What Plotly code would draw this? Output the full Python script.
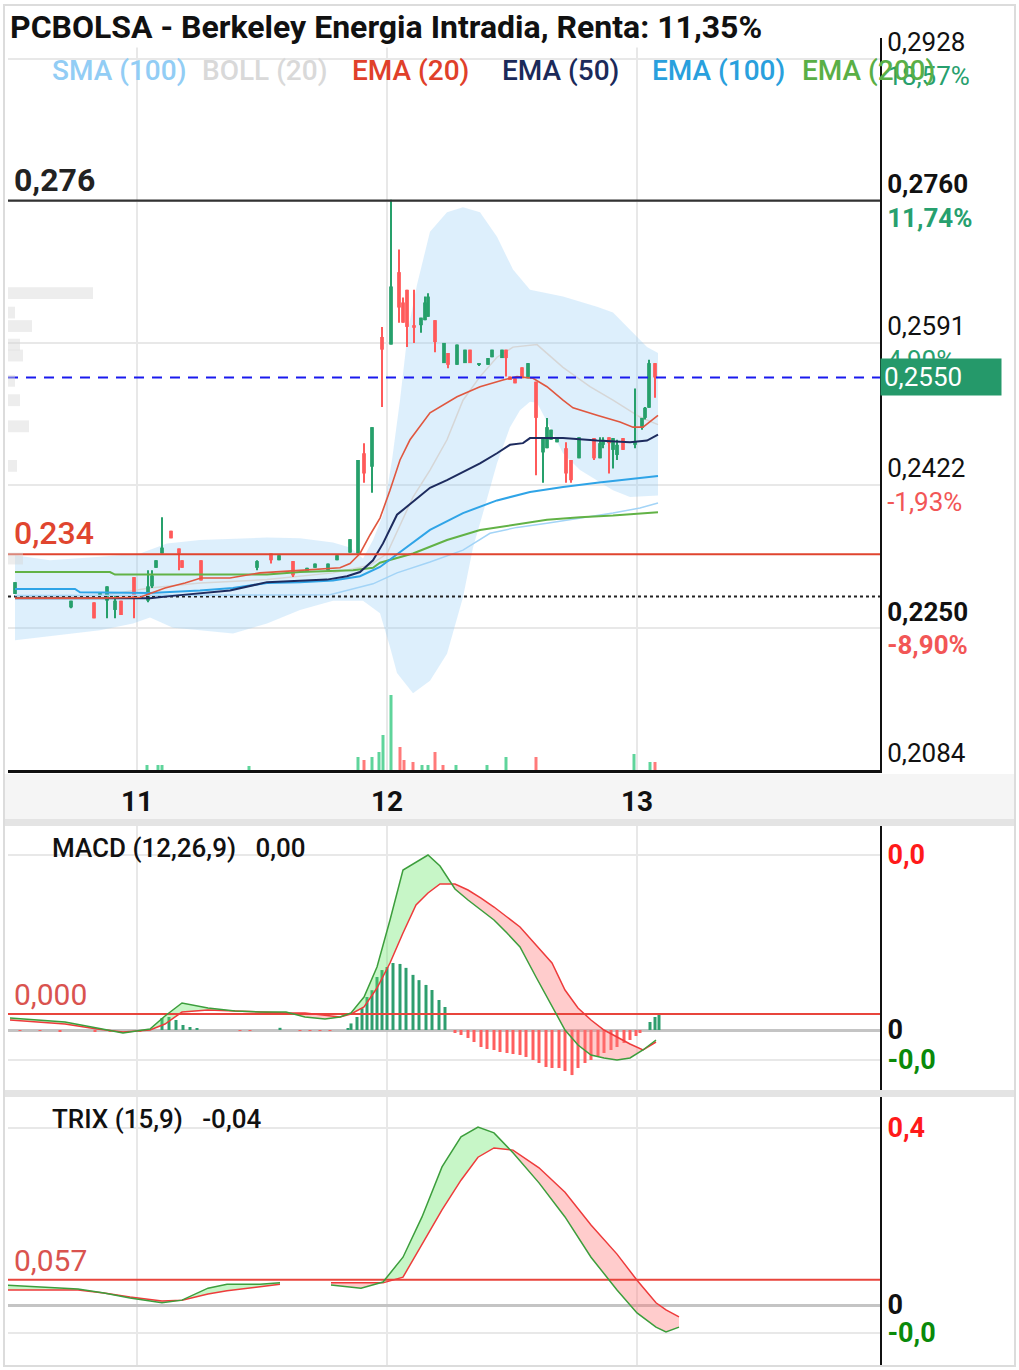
import plotly.graph_objects as go

# ====================== DATA ======================
# Candles (x = day of month, fractional intraday position)
candle_day = [10.512, 10.736, 10.828, 10.852, 10.880, 10.912, 10.936, 10.988, 11.044, 11.060,
              11.076, 11.100, 11.136, 11.168, 11.180, 11.256, 11.480, 11.536, 11.568, 11.624,
              11.680, 11.712, 11.764, 11.800, 11.852, 11.884, 11.908, 11.940, 11.980, 12.016,
              12.048, 12.064, 12.080, 12.108, 12.136, 12.152, 12.164, 12.192, 12.228, 12.244,
              12.280, 12.312, 12.332, 12.368, 12.404, 12.420, 12.460, 12.476, 12.492, 12.512,
              12.540, 12.564, 12.596, 12.624, 12.640, 12.656, 12.680, 12.716, 12.736, 12.768,
              12.828, 12.852, 12.864, 12.888, 12.904, 12.920, 12.944, 12.992, 13.020, 13.032,
              13.048, 13.072]
candle_open = [0.2293, 0.2277, 0.2283, 0.2291, 0.2285, 0.2274, 0.2285, 0.2313, 0.2285, 0.2302,
               0.2324, 0.2341, 0.2368, 0.2347, 0.2333, 0.2333, 0.2324, 0.2341, 0.2333, 0.2332,
               0.2319, 0.2324, 0.2321, 0.2333, 0.2342, 0.2341, 0.2460, 0.2444, 0.2598, 0.2589,
               0.2675, 0.2639, 0.2654, 0.2612, 0.2612, 0.2618, 0.2622, 0.2618, 0.2567, 0.2579,
               0.2565, 0.2567, 0.2583, 0.2565, 0.2565, 0.2574, 0.2573, 0.2583, 0.2551, 0.2549,
               0.2562, 0.2549, 0.2545, 0.2461, 0.2466, 0.2476, 0.2473, 0.2466, 0.2452, 0.2454,
               0.2478, 0.2454, 0.2470, 0.2479, 0.2464, 0.2458, 0.2478, 0.2470, 0.2490, 0.2502,
               0.2514, 0.2567]
candle_high = [0.2307, 0.2285, 0.2283, 0.2294, 0.2302, 0.2291, 0.2285, 0.2313, 0.2321, 0.2321,
               0.2333, 0.2384, 0.2368, 0.2347, 0.2333, 0.2333, 0.2333, 0.2341, 0.2339, 0.2332,
               0.2324, 0.2329, 0.2329, 0.2339, 0.2358, 0.2452, 0.2472, 0.2491, 0.2610, 0.2761,
               0.2702, 0.2645, 0.2654, 0.2654, 0.2621, 0.2646, 0.2650, 0.2618, 0.2591, 0.2579,
               0.2589, 0.2583, 0.2583, 0.2566, 0.2573, 0.2583, 0.2583, 0.2583, 0.2551, 0.2549,
               0.2562, 0.2567, 0.2545, 0.2479, 0.2502, 0.2488, 0.2478, 0.2473, 0.2452, 0.2479,
               0.2478, 0.2479, 0.2479, 0.2479, 0.2478, 0.2476, 0.2478, 0.2537, 0.2502, 0.2515,
               0.2571, 0.2567]
candle_low = [0.2293, 0.2276, 0.2264, 0.2291, 0.2264, 0.2264, 0.2268, 0.2264, 0.2283, 0.2300,
              0.2324, 0.2341, 0.2359, 0.2321, 0.2324, 0.2309, 0.2321, 0.2329, 0.2333, 0.2313,
              0.2319, 0.2324, 0.2321, 0.2333, 0.2342, 0.2341, 0.2425, 0.2413, 0.2515, 0.2589,
              0.2615, 0.2615, 0.2586, 0.2591, 0.2603, 0.2618, 0.2622, 0.2580, 0.2567, 0.2561,
              0.2565, 0.2567, 0.2567, 0.2564, 0.2565, 0.2574, 0.2573, 0.2551, 0.2547, 0.2543,
              0.2549, 0.2549, 0.2434, 0.2425, 0.2466, 0.2476, 0.2473, 0.2425, 0.2425, 0.2454,
              0.2452, 0.2454, 0.2466, 0.2436, 0.2442, 0.2452, 0.2464, 0.2466, 0.2488, 0.2500,
              0.2514, 0.2526]
candle_close = [0.2307, 0.2285, 0.2264, 0.2294, 0.2302, 0.2285, 0.2268, 0.2289, 0.2302, 0.2315,
                0.2333, 0.2348, 0.2359, 0.2341, 0.2324, 0.2309, 0.2332, 0.2333, 0.2339, 0.2315,
                0.2324, 0.2329, 0.2329, 0.2339, 0.2358, 0.2452, 0.2436, 0.2491, 0.2583, 0.2658,
                0.2633, 0.2615, 0.2610, 0.2609, 0.2621, 0.2639, 0.2646, 0.2592, 0.2591, 0.2565,
                0.2589, 0.2583, 0.2567, 0.2566, 0.2573, 0.2583, 0.2583, 0.2573, 0.2547, 0.2543,
                0.2549, 0.2567, 0.2502, 0.2479, 0.2491, 0.2488, 0.2478, 0.2436, 0.2428, 0.2479,
                0.2454, 0.2472, 0.2476, 0.2472, 0.2478, 0.2470, 0.2464, 0.2474, 0.2502, 0.2514,
                0.2567, 0.2550]

# Volume bars
vol_day = [11.040, 11.084, 11.100, 11.448, 11.884, 11.908, 11.940, 11.968, 11.984, 12.016,
           12.052, 12.068, 12.104, 12.140, 12.164, 12.192, 12.224, 12.276, 12.400, 12.476,
           12.596, 12.988, 13.052, 13.072]
vol_shares = [10000, 10000, 10000, 8000, 26000, 20000, 26000, 36000, 70000, 150000,
              46000, 20000, 16000, 10000, 10000, 36000, 10000, 10000, 10000, 26000,
              26000, 32000, 16000, 16000]
vol_up = [1, 1, 1, 1, 1, 0, 1, 1, 1, 1, 0, 0, 0, 1, 1, 0, 0, 1, 1, 1, 0, 1, 1, 0]

# Volume by price profile
profile_price = [0.2650, 0.2627, 0.2611, 0.2589, 0.2576, 0.2546, 0.2523, 0.2492, 0.2445, 0.2335]
profile_vol = [850, 70, 240, 120, 150, 70, 120, 210, 90, 150]

# Moving averages
ema20_day = [10.512, 10.692, 10.852, 11.012, 11.112, 11.192, 11.256, 11.372, 11.492, 11.652,
             11.812, 11.852, 11.892, 11.932, 11.972, 12.012, 12.052, 12.092, 12.172, 12.280,
             12.372, 12.464, 12.520, 12.584, 12.640, 12.704, 12.744, 12.840, 12.932, 12.984,
             13.024, 13.084]
ema20 = [0.2288, 0.2288, 0.2288, 0.2289, 0.2300, 0.2306, 0.2312, 0.2312, 0.2318, 0.2321,
         0.2324, 0.2329, 0.2341, 0.2363, 0.2383, 0.2416, 0.2452, 0.2476, 0.2508, 0.2527,
         0.2539, 0.2547, 0.2551, 0.2549, 0.2539, 0.2523, 0.2514, 0.2505, 0.2497, 0.2491,
         0.2491, 0.2505]
ema50_day = [10.512, 11.052, 11.152, 11.256, 11.372, 11.520, 11.652, 11.760, 11.840, 11.892,
             11.944, 11.984, 12.040, 12.104, 12.172, 12.240, 12.304, 12.372, 12.440, 12.492,
             12.544, 12.572, 12.704, 12.840, 12.972, 13.040, 13.084]
ema50 = [0.2288, 0.2288, 0.2291, 0.2294, 0.2297, 0.2307, 0.2309, 0.2310, 0.2314, 0.2319,
         0.2333, 0.2353, 0.2387, 0.2402, 0.2419, 0.2428, 0.2438, 0.2448, 0.2460, 0.2470,
         0.2472, 0.2478, 0.2478, 0.2475, 0.2473, 0.2475, 0.2482]
ema100_day = [10.512, 10.752, 10.772, 11.052, 11.252, 11.384, 11.520, 11.652, 11.784, 11.892,
              11.972, 12.052, 12.172, 12.304, 12.440, 12.572, 12.704, 12.840, 12.972, 13.084]
ema100 = [0.2299, 0.2299, 0.2295, 0.2294, 0.2297, 0.2300, 0.2306, 0.2307, 0.2309, 0.2314,
          0.2325, 0.2343, 0.2369, 0.2389, 0.2404, 0.2414, 0.2420, 0.2425, 0.2429, 0.2433]
ema200_day = [10.512, 10.892, 10.912, 11.256, 11.520, 11.652, 11.784, 11.864, 11.944, 11.972,
              12.104, 12.240, 12.372, 12.504, 12.640, 12.772, 12.904, 13.084]
ema200 = [0.2319, 0.2319, 0.2316, 0.2316, 0.2316, 0.2319, 0.2320, 0.2321, 0.2324, 0.2330,
          0.2341, 0.2357, 0.2369, 0.2375, 0.2381, 0.2384, 0.2386, 0.2390]
sma100_day = [10.512, 11.772, 11.944, 12.040, 12.172, 12.304, 12.412, 12.520, 12.640, 12.772,
              12.904, 13.012, 13.084]
sma100 = [0.2291, 0.2292, 0.2305, 0.2318, 0.2331, 0.2345, 0.2365, 0.2372, 0.2377, 0.2383,
          0.2389, 0.2395, 0.2401]

# Bollinger (20)
boll_up_day = [10.512, 10.652, 10.852, 11.012, 11.120, 11.252, 11.520, 11.652, 11.784, 11.852,
               11.904, 11.944, 11.984, 12.020, 12.052, 12.084, 12.120, 12.172, 12.240, 12.304,
               12.372, 12.440, 12.504, 12.572, 12.704, 12.840, 12.904, 12.972, 13.040, 13.084]
boll_up = [0.2339, 0.2333, 0.2337, 0.2341, 0.2353, 0.2357, 0.2360, 0.2359, 0.2354, 0.2348,
           0.2335, 0.2357, 0.2387, 0.2452, 0.2523, 0.2606, 0.2660, 0.2723, 0.2746, 0.2752,
           0.2746, 0.2717, 0.2678, 0.2654, 0.2646, 0.2634, 0.2627, 0.2606, 0.2586, 0.2579]
boll_lo_day = [10.512, 10.692, 10.852, 10.984, 11.052, 11.144, 11.252, 11.384, 11.520, 11.652,
               11.784, 11.904, 11.972, 12.012, 12.040, 12.104, 12.172, 12.240, 12.304, 12.344,
               12.384, 12.440, 12.492, 12.532, 12.572, 12.600, 12.652, 12.704, 12.772, 12.904,
               12.972, 13.084]
boll_lo = [0.2238, 0.2244, 0.2250, 0.2258, 0.2265, 0.2253, 0.2250, 0.2246, 0.2258, 0.2274,
           0.2285, 0.2285, 0.2270, 0.2230, 0.2199, 0.2175, 0.2190, 0.2222, 0.2289, 0.2348,
           0.2389, 0.2448, 0.2491, 0.2511, 0.2521, 0.2520, 0.2491, 0.2460, 0.2440, 0.2416,
           0.2408, 0.2410]
boll_mid_day = [10.512, 10.852, 11.052, 11.252, 11.520, 11.784, 11.932, 12.000, 12.104, 12.172,
                12.240, 12.304, 12.372, 12.440, 12.504, 12.600, 12.704, 12.812, 12.904, 13.012,
                13.084]
boll_mid = [0.2290, 0.2291, 0.2300, 0.2306, 0.2310, 0.2318, 0.2327, 0.2341, 0.2408, 0.2440,
            0.2476, 0.2523, 0.2551, 0.2574, 0.2586, 0.2589, 0.2562, 0.2539, 0.2523, 0.2503,
            0.2494]

# Horizontal levels
level_high = 0.2760
level_low = 0.2340
level_last = 0.2550
level_ref = 0.2290

# Price axis ticks
price_ticks = [0.2084, 0.2252, 0.2422, 0.2591, 0.2760, 0.2928]
price_tick_labels = ["0,2084", "0,2250", "0,2422", "0,2591", "0,2760", "0,2928"]
price_tick_pct = ["", "-8,90%", "-1,93%", "4,90%", "11,74%", "18,57%"]
price_tick_bold = [False, True, False, False, True, False]

day_ticks = [11, 12, 13]
day_labels = ["11", "12", "13"]

# MACD (values in units of 1e-4)
macd_day = [10.492, 10.612, 10.712, 10.840, 10.944, 11.052, 11.112, 11.180, 11.284, 11.392,
            11.492, 11.596, 11.672, 11.752, 11.812, 11.856, 11.908, 11.960, 12.012, 12.064,
            12.116, 12.164, 12.212, 12.272, 12.324, 12.376, 12.428, 12.480, 12.532, 12.596,
            12.660, 12.712, 12.764, 12.816, 12.868, 12.920, 12.972, 13.024, 13.076]
macd_line = [2.74, 2.29, 1.83, 0.46, -0.69, 0.23, 3.20, 6.17, 5.03, 4.34,
             4.11, 4.11, 2.97, 2.51, 2.97, 3.89, 7.54, 14.40, 25.14, 36.57,
             38.40, 40.00, 37.49, 32.23, 29.71, 27.43, 25.14, 22.17, 18.97, 12.11,
             5.26, 0.0, -3.43, -5.71, -6.40, -6.86, -6.40, -4.57, -2.29]
macd_signal = [2.29, 1.83, 1.37, 0.23, -0.46, 0.0, 1.37, 4.11, 4.57, 4.34,
               4.11, 3.89, 3.89, 3.43, 2.97, 3.66, 5.26, 9.60, 15.31, 22.17,
               28.57, 31.31, 33.37, 33.37, 32.00, 30.17, 28.11, 25.83, 23.54, 19.43,
               15.31, 9.14, 5.03, 2.29, 0.0, -1.60, -3.20, -4.57, -2.74]
hist_day = [10.532, 10.612, 10.692, 10.832, 10.892, 11.012, 11.100, 11.128, 11.156, 11.184,
            11.212, 11.240, 11.412, 11.452, 11.572, 11.652, 11.692, 11.732, 11.772, 11.844,
            11.856, 11.880, 11.900, 11.920, 11.940, 11.960, 11.980, 12.000, 12.024, 12.052,
            12.076, 12.104, 12.128, 12.156, 12.180, 12.208, 12.232, 12.272, 12.296, 12.324,
            12.348, 12.376, 12.400, 12.428, 12.452, 12.480, 12.504, 12.532, 12.556, 12.584,
            12.608, 12.636, 12.660, 12.688, 12.712, 12.740, 12.764, 12.792, 12.816, 12.844,
            12.868, 12.896, 12.920, 12.948, 12.972, 12.996, 13.012, 13.052, 13.072, 13.088]
hist_val = [-0.2, -0.2, -0.3, -0.4, -0.4, -0.3, 2.74, 2.97, 2.29, 1.14,
            0.69, 0.46, -0.2, -0.2, 0.5, -0.2, -0.2, -0.2, -0.2, 0.46,
            1.5, 2.97, 5.0, 7.54, 9.1, 12.11, 13.7, 14.4, 15.31, 15.1,
            14.2, 12.6, 11.4, 10.3, 9.14, 6.86, 5.26, -0.69, -1.14, -1.83,
            -2.74, -3.89, -4.34, -4.57, -5.03, -5.26, -5.49, -5.71, -6.17, -6.86,
            -7.54, -8.46, -8.69, -8.69, -9.37, -10.3, -8.69, -7.54, -6.86, -5.94,
            -5.26, -4.57, -3.89, -2.97, -2.29, -1.37, -0.69, 1.83, 2.97, 3.43]
macd_ticks = [-6.86, 0, 40]
macd_level = 3.66

# TRIX (15,9)
trix_day = [10.476, 10.608, 10.764, 10.868, 10.972, 11.100, 11.180, 11.284, 11.360, 11.492,
            11.572, 11.672, 11.776, 11.896, 11.984, 12.064, 12.140, 12.220, 12.296, 12.364,
            12.428, 12.504, 12.608, 12.712, 12.816, 12.920, 13.000, 13.076, 13.116, 13.168]
trix_line = [0.045, 0.041, 0.036, 0.027, 0.016, 0.005, 0.011, 0.038, 0.047, 0.047,
             0.050, None, 0.045, 0.038, 0.052, 0.108, 0.199, 0.312, 0.380, 0.402,
             0.389, 0.344, 0.276, 0.199, 0.108, 0.034, -0.018, -0.050, -0.061, -0.050]
trix_signal = [0.034, 0.034, 0.034, 0.027, 0.018, 0.009, 0.011, 0.025, 0.032, 0.041,
               0.047, None, 0.050, 0.050, 0.050, 0.063, 0.136, 0.215, 0.282, 0.334,
               0.355, 0.350, 0.310, 0.255, 0.181, 0.115, 0.056, 0.005, -0.011, -0.027]
trix_ticks = [-0.063, 0, 0.4]
trix_level = 0.057

# ====================== LAYOUT GEOMETRY ======================
FW, FH = 1019, 1370
def px_x(x):
    return x / FW
def px_y(y):
    return 1 - y / FH

PLOT_L, PLOT_R = 8, 880
MAIN_T, MAIN_B = 38, 770
MACD_T, MACD_B = 826, 1090
TRIX_T, TRIX_B = 1097, 1365
x_range = [11 + (PLOT_L - 137) / 250, 11 + (PLOT_R - 137) / 250]
PX_PER_PRICE = 8424
price_range = [0.2084, 0.2084 + (MAIN_B - MAIN_T) / PX_PER_PRICE]
vol_range = [0, 150000 * (MAIN_B - MAIN_T) / 75]
prof_range = [0, (PLOT_R - PLOT_L) * 10]
macd_range = [-(MACD_B - 1030) / 4.375, (1030 - MACD_T) / 4.375]
trix_range = [-(TRIX_B - 1305) / 442.5, (1305 - TRIX_T) / 442.5]

GREEN = "#26a06b"
RED = "#ff5a5a"
GRID = "#e8e8e8"
FONT = "Roboto"

traces = []

# ---- base subplot: bollinger band fill + volume ----
traces.append(go.Scatter(x=boll_up_day + boll_lo_day[::-1], y=boll_up + boll_lo[::-1],
                         fill="toself", fillcolor="rgba(150,205,245,0.32)", line=dict(width=0),
                         mode="lines", xaxis="x", yaxis="y", hoverinfo="skip"))
traces.append(go.Scatter(x=boll_mid_day, y=boll_mid, mode="lines",
                         line=dict(color="#d6d6d6", width=1.5), xaxis="x", yaxis="y"))
traces.append(go.Bar(x=profile_vol, y=profile_price, orientation="h", width=0.0014,
                     marker=dict(color="rgba(215,215,215,0.45)", line=dict(width=0)),
                     xaxis="x2", yaxis="y"))
traces.append(go.Bar(x=vol_day, y=vol_shares, width=0.012,
                     marker=dict(color=["#5fd49b" if u else "#ff7a7a" for u in vol_up],
                                 line=dict(width=0)),
                     xaxis="x", yaxis="y3"))

# ---- candles (overlay subplot) ----
cols = [GREEN if c >= o else RED for o, c in zip(candle_open, candle_close)]
wick_base = candle_low
wick_len = [max(h - l, 0.00012) for h, l in zip(candle_high, candle_low)]
body_base = [min(o, c) for o, c in zip(candle_open, candle_close)]
body_len = [max(abs(c - o), 0.00012) for o, c in zip(candle_open, candle_close)]
traces.append(go.Bar(x=candle_day, y=wick_len, base=wick_base, width=0.005,
                     marker=dict(color=cols, line=dict(width=0)), xaxis="x", yaxis="y2"))
traces.append(go.Bar(x=candle_day, y=body_len, base=body_base, width=0.015,
                     marker=dict(color=cols, line=dict(width=0)), xaxis="x", yaxis="y2"))

# ---- level lines ----
def hline(v, color, width, dash):
    return go.Scatter(x=x_range, y=[v, v], mode="lines",
                      line=dict(color=color, width=width, dash=dash), xaxis="x", yaxis="y2")

traces.append(hline(level_ref, "#222222", 2, "3px,3px"))

# ---- moving averages ----
for d, v, c, w in [(sma100_day, sma100, "#a3d4f7", 1.5),
                   (ema200_day, ema200, "#62b246", 2),
                   (ema100_day, ema100, "#2fa4e7", 2),
                   (ema50_day, ema50, "#1d2b5e", 2),
                   (ema20_day, ema20, "#e0573f", 1.6)]:
    traces.append(go.Scatter(x=d, y=v, mode="lines", line=dict(color=c, width=w),
                             xaxis="x", yaxis="y2"))

traces.append(hline(level_high, "#333333", 2.2, "solid"))
traces.append(hline(level_low, "#e0452f", 2, "solid"))
traces.append(hline(level_last, "#1a1aee", 2, "10px,8px"))


# ---- sign-coloured fills between two lines ----
def sign_fills(xs, a, b, xa, ya, up_col, dn_col):
    out = []
    runs, cur = [], []
    for x, p, q in zip(xs, a, b):
        if p is None or q is None:
            if len(cur) > 1:
                runs.append(cur)
            cur = []
        else:
            cur.append((x, p, q))
    if len(cur) > 1:
        runs.append(cur)
    for run in runs:
        pts = [run[0]]
        for (x0, p0, q0), (x1, p1, q1) in zip(run[:-1], run[1:]):
            d0, d1 = p0 - q0, p1 - q1
            if d0 * d1 < 0:
                f = d0 / (d0 - d1)
                yc = p0 + f * (p1 - p0)
                pts.append((x0 + f * (x1 - x0), yc, yc))
            pts.append((x1, p1, q1))
        pieces, piece = [], [pts[0]]
        for pt in pts[1:]:
            piece.append(pt)
            if pt[1] == pt[2]:
                pieces.append(piece)
                piece = [pt]
        if len(piece) > 1:
            pieces.append(piece)
        for pc in pieces:
            diff = sum(p - q for _, p, q in pc)
            if diff == 0:
                continue
            col = up_col if diff > 0 else dn_col
            xs_ = [pt[0] for pt in pc] + [pt[0] for pt in reversed(pc)]
            ys_ = [pt[1] for pt in pc] + [pt[2] for pt in reversed(pc)]
            out.append(go.Scatter(x=xs_, y=ys_, fill="toself", fillcolor=col,
                                  line=dict(width=0), mode="lines",
                                  xaxis=xa, yaxis=ya, hoverinfo="skip"))
    return out

FILL_UP = "rgba(100,230,100,0.36)"
FILL_DN = "rgba(255,120,120,0.38)"

# ---- MACD panel ----
traces.append(go.Bar(x=hist_day, y=hist_val, width=0.012,
                     marker=dict(color=["#2e9e6e" if v >= 0 else "#ff5f5f" for v in hist_val],
                                 line=dict(width=0)),
                     xaxis="x3", yaxis="y4"))
traces += sign_fills(macd_day, macd_line, macd_signal, "x3", "y4", FILL_UP, FILL_DN)
traces.append(go.Scatter(x=x_range, y=[macd_level, macd_level], mode="lines",
                         line=dict(color="#e8453c", width=2), xaxis="x3", yaxis="y4"))
traces.append(go.Scatter(x=macd_day, y=macd_signal, mode="lines",
                         line=dict(color="#ee3b3b", width=1.5), xaxis="x3", yaxis="y4"))
traces.append(go.Scatter(x=macd_day, y=macd_line, mode="lines",
                         line=dict(color="#3c9e3c", width=1.5), xaxis="x3", yaxis="y4"))

# ---- TRIX panel ----
traces += sign_fills(trix_day, trix_line, trix_signal, "x4", "y5", FILL_UP, FILL_DN)
traces.append(go.Scatter(x=x_range, y=[trix_level, trix_level], mode="lines",
                         line=dict(color="#e8453c", width=2), xaxis="x4", yaxis="y5"))
traces.append(go.Scatter(x=trix_day, y=trix_signal, mode="lines", connectgaps=False,
                         line=dict(color="#ee3b3b", width=1.5), xaxis="x4", yaxis="y5"))
traces.append(go.Scatter(x=trix_day, y=trix_line, mode="lines", connectgaps=False,
                         line=dict(color="#3c9e3c", width=1.5), xaxis="x4", yaxis="y5"))

fig = go.Figure(data=traces)

# ---- tick texts ----
ptext = []
for lab, pct, b in zip(price_tick_labels, price_tick_pct, price_tick_bold):
    pc = "#f25656" if pct.startswith("-") else "#27a06e"
    if b:
        t = f"<b>{lab}</b><br><b><span style='color:{pc}'>{pct}</span></b>"
    elif pct:
        t = f"{lab}<br><span style='color:{pc}'>{pct}</span>"
    else:
        t = f"{lab}<br>&#160;"
    ptext.append(t)

macd_tick_text = ["<span style='color:#0a8a0a'><b>-0,0</b></span>", "<b>0</b>",
                  "<span style='color:#ff1a1a'><b>0,0</b></span>"]
trix_tick_text = ["<span style='color:#0a8a0a'><b>-0,0</b></span>", "<b>0</b>",
                  "<span style='color:#ff1a1a'><b>0,4</b></span>"]

xdom = [px_x(PLOT_L), px_x(PLOT_R)]
common_x = dict(domain=xdom, range=x_range, tickvals=day_ticks, showgrid=True,
                gridcolor=GRID, gridwidth=1.5, zeroline=False, fixedrange=True,
                automargin=False)

fig.update_layout(
    template="none",
    width=FW, height=FH, autosize=False,
    margin=dict(l=0, r=0, t=0, b=0, pad=0, autoexpand=False),
    paper_bgcolor="white", plot_bgcolor="white",
    showlegend=False, barmode="overlay", hovermode=False,
    font=dict(family=FONT, color="#111"),
    xaxis=dict(**common_x, anchor="y", ticktext=day_labels, showline=True,
               linecolor="#111", linewidth=3, ticks="outside", ticklen=4,
               tickcolor="rgba(0,0,0,0)",
               tickfont=dict(family=FONT, size=28, color="#111", weight="bold")),
    yaxis=dict(domain=[px_y(MAIN_B), px_y(MAIN_T)], range=price_range, side="right",
               anchor="x", tickvals=price_ticks, ticktext=ptext, showgrid=True,
               gridcolor=GRID, gridwidth=1.5, showline=True, linecolor="#111",
               linewidth=2, ticks="", zeroline=False, automargin=False,
               tickfont=dict(family=FONT, size=26, color="#111")),
    yaxis2=dict(overlaying="y", range=price_range, visible=False, anchor="x"),
    yaxis3=dict(overlaying="y", range=vol_range, visible=False, anchor="x"),
    xaxis2=dict(overlaying="x", range=prof_range, visible=False, anchor="y"),
    xaxis3=dict(**common_x, anchor="y4", showticklabels=False, showline=False),
    yaxis4=dict(domain=[px_y(MACD_B), px_y(MACD_T)], range=macd_range, side="right",
                anchor="x3", tickvals=macd_ticks, ticktext=macd_tick_text, showgrid=True,
                gridcolor=GRID, gridwidth=2, showline=True, linecolor="#111", linewidth=2,
                zeroline=True, zerolinecolor="#c4c4c4", zerolinewidth=2.5, ticks="",
                automargin=False, tickfont=dict(family=FONT, size=27, color="#111")),
    xaxis4=dict(**common_x, anchor="y5", showticklabels=False, showline=False),
    yaxis5=dict(domain=[px_y(TRIX_B), px_y(TRIX_T)], range=trix_range, side="right",
                anchor="x4", tickvals=trix_ticks, ticktext=trix_tick_text, showgrid=True,
                gridcolor=GRID, gridwidth=2, showline=True, linecolor="#111", linewidth=2,
                zeroline=True, zerolinecolor="#c4c4c4", zerolinewidth=2.5, ticks="",
                automargin=False, tickfont=dict(family=FONT, size=27, color="#111")),
)

# ---- decorative bands / frame ----
shapes = [
    dict(type="rect", xref="paper", yref="paper", x0=px_x(4), x1=px_x(1014),
         y0=px_y(819), y1=px_y(774), fillcolor="#f5f5f5", line=dict(width=0), layer="below"),
    dict(type="rect", xref="paper", yref="paper", x0=px_x(3), x1=px_x(1016),
         y0=px_y(826), y1=px_y(819), fillcolor="#e4e4e4", line=dict(width=0), layer="below"),
    dict(type="rect", xref="paper", yref="paper", x0=px_x(3), x1=px_x(1016),
         y0=px_y(1097), y1=px_y(1090), fillcolor="#e4e4e4", line=dict(width=0), layer="below"),
    dict(type="rect", xref="paper", yref="paper", x0=px_x(4), x1=px_x(1015),
         y0=px_y(1366), y1=px_y(5), fillcolor="rgba(0,0,0,0)",
         line=dict(color="#dcdcdc", width=2), layer="below"),
]
fig.update_layout(shapes=shapes)

# ---- annotations ----
ann = []
ann.append(dict(text="<b>PCBOLSA - Berkeley Energia Intradia, Renta: 11,35%</b>",
                xref="paper", yref="paper", x=px_x(8), y=px_y(27), xanchor="left",
                yanchor="middle", showarrow=False, bgcolor="white",
                font=dict(family=FONT, size=32, color="#111")))
legend_names = ["SMA (100)", "BOLL (20)", "EMA (20)", "EMA (50)", "EMA (100)", "EMA (200)"]
legend_colors = ["#92cdf5", "#d9d9d9", "#e0402a", "#1b2a5a", "#29a0dd", "#5aaf46"]
legend_x = [50, 200, 350, 500, 650, 800]
for n, c, x in zip(legend_names, legend_colors, legend_x):
    ann.append(dict(text=n, xref="paper", yref="paper", x=px_x(x), y=px_y(70),
                    xanchor="left", yanchor="middle", showarrow=False,
                    font=dict(family=FONT, size=28, color=c, weight=500)))
ann.append(dict(text="0,2550", xref="paper", yref="y", x=px_x(PLOT_R), y=level_last,
                xanchor="left", yanchor="middle", showarrow=False, align="left",
                bgcolor="#25996a", width=114, borderpad=3,
                font=dict(family=FONT, size=26, color="white")))
ann.append(dict(text="<b>0,276</b>", xref="paper", yref="y", x=px_x(12), y=level_high,
                xanchor="left", yanchor="bottom", yshift=0, showarrow=False,
                font=dict(family=FONT, size=32, color="#222")))
ann.append(dict(text="0,234", xref="paper", yref="y", x=px_x(12), y=level_low,
                xanchor="left", yanchor="bottom", showarrow=False,
                font=dict(family=FONT, size=32, color="#e0452f", weight=500)))
ann.append(dict(text="0,000", xref="paper", yref="y4", x=px_x(12), y=macd_level,
                xanchor="left", yanchor="bottom", showarrow=False,
                font=dict(family=FONT, size=30, color="#d9534f")))
ann.append(dict(text="0,057", xref="paper", yref="y5", x=px_x(12), y=trix_level,
                xanchor="left", yanchor="bottom", showarrow=False,
                font=dict(family=FONT, size=30, color="#d9534f")))
ann.append(dict(text="MACD (12,26,9)   0,00", xref="paper", yref="paper", x=px_x(50),
                y=px_y(848), xanchor="left", yanchor="middle", showarrow=False,
                font=dict(family=FONT, size=26, color="#111", weight=500)))
ann.append(dict(text="TRIX (15,9)   -0,04", xref="paper", yref="paper", x=px_x(50),
                y=px_y(1119), xanchor="left", yanchor="middle", showarrow=False,
                font=dict(family=FONT, size=26, color="#111", weight=500)))
fig.update_layout(annotations=ann)

fig.write_html("out.html", config={"displayModeBar": False},
               post_script="document.body.style.margin='0';")
